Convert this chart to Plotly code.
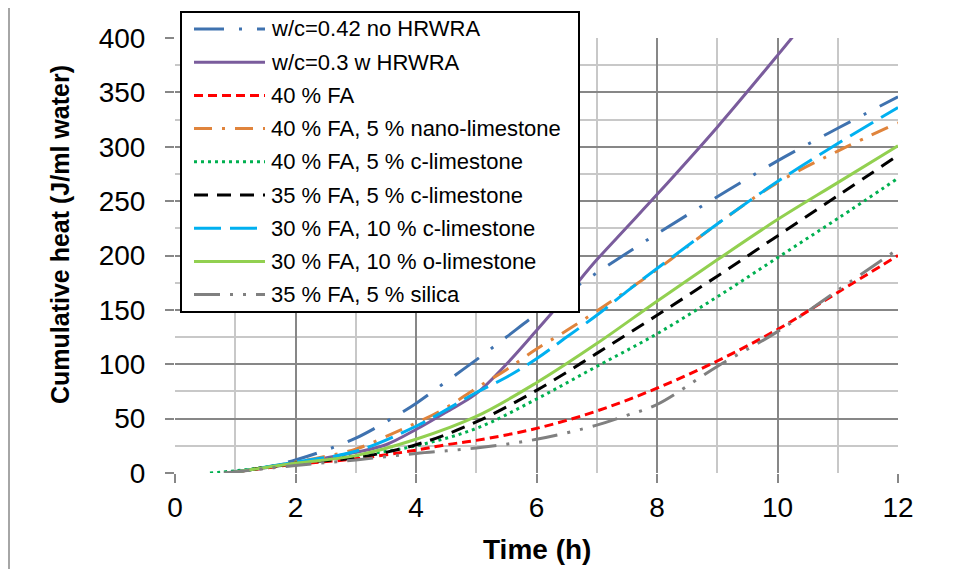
import plotly.graph_objects as go

# ---------------- data ----------------
series_names = [
    "w/c=0.42 no HRWRA",
    "w/c=0.3 w HRWRA",
    "40 % FA",
    "40 % FA, 5 % nano-limestone",
    "40 % FA, 5 % c-limestone",
    "35 % FA, 5 % c-limestone",
    "30 % FA, 10 % c-limestone",
    "30 % FA, 10 % o-limestone",
    "35 % FA, 5 % silica",
]

t_wc042 = [0.85, 1, 1.5, 2, 2.5, 3, 3.5, 4, 4.5, 5, 5.5, 6, 7, 8, 9, 10, 11, 12]
q_wc042 = [0, 1.5, 5, 12, 21, 32, 47, 64, 84, 104, 125, 146, 184, 220, 254, 287, 317, 346]

t_wc03 = [0.85, 1, 2, 3, 3.5, 4, 4.5, 5, 5.5, 6, 6.5, 7, 7.5, 8, 9, 10, 10.5]
q_wc03 = [0, 1, 9, 19, 26, 40, 56, 73, 100, 131, 163, 196, 226, 256, 318, 384, 418]

t_fa40 = [0.85, 1, 2, 3, 4, 4.5, 5, 6, 7, 8, 9, 10, 11, 12]
q_fa40 = [0, 1, 8, 13, 21, 26, 30, 41, 57, 78, 103, 132, 166, 200]

t_nano = [0.85, 1, 2, 3, 3.6, 4, 4.5, 5, 5.5, 6, 6.5, 7, 8, 9, 10, 11, 12]
q_nano = [0, 1, 10, 22, 36, 46, 60, 78, 95, 114, 131, 149, 187, 229, 267, 296, 322]

t_fa40_cl = [0.58, 1, 2, 3, 4, 5, 6, 7, 8, 9, 10, 11, 12]
q_fa40_cl = [0, 2, 9, 16, 25, 41, 68, 98, 128, 162, 198, 234, 271]

t_fa35_cl = [0.85, 1, 2, 3, 4, 5, 6, 7, 8, 9, 10, 11, 12]
q_fa35_cl = [0, 1, 9, 14, 26, 47, 76, 110, 145, 181, 218, 255, 292]

t_fa30_cl = [0.85, 1, 2, 3, 4, 4.5, 5, 5.5, 6, 6.5, 7, 7.5, 8, 9, 10, 11, 12]
q_fa30_cl = [0, 1, 10, 20, 43, 58, 74, 88, 105, 125, 145, 167, 188, 229, 268, 303, 336]

t_fa30_ol = [0.85, 1, 2, 3, 4, 5, 6, 7, 8, 9, 10, 11, 12]
q_fa30_ol = [0, 1, 9, 16, 31, 52, 83, 119, 158, 196, 233, 267, 301]

t_silica = [0.81, 1, 2, 3, 4, 5, 6, 7, 7.5, 8, 9, 10, 11, 12]
q_silica = [0, 1, 7, 12, 18, 23, 31, 44, 53, 63, 98, 130, 168, 206]

x_ticks = [0, 2, 4, 6, 8, 10, 12]
y_ticks = [0, 50, 100, 150, 200, 250, 300, 350, 400]

# ---------------- styles ----------------
colors = ["#3F72AF", "#7A5C9C", "#FF0000", "#E0843C", "#00B050",
          "#000000", "#00B0F0", "#92D050", "#808080"]
dashes = ["30px,15px,3px,15px", "solid", "9px,5px", "18px,10px,3px,10px",
          "3px,4px", "14px,9px", "27px,9px", "solid",
          "26px,10px,3px,10px,3px,10px"]

xs = [t_wc042, t_wc03, t_fa40, t_nano, t_fa40_cl, t_fa35_cl, t_fa30_cl, t_fa30_ol, t_silica]
ys = [q_wc042, q_wc03, q_fa40, q_nano, q_fa40_cl, q_fa35_cl, q_fa30_cl, q_fa30_ol, q_silica]

FONT = "Arial, Liberation Sans, sans-serif"

fig = go.Figure()
for name, x, y, c, d in zip(series_names, xs, ys, colors, dashes):
    fig.add_trace(go.Scatter(
        x=x, y=y, name=name, mode="lines",
        line=dict(color=c, width=3, dash=d, shape="spline", smoothing=1.0),
        showlegend=False,
    ))

# page has an 8px body margin: figure origin sits at screen (8, 8)
OFF = 8
W, H = 958 - 2 * OFF, 577 - 2 * OFF
# plot area in screen pixels: x 175..898, y 38..473
L = 175 - OFF
T = 38 - OFF
PW, PH = 723, 435
R = W - L - PW
B = H - T - PH


def xp(px):
    return (px - 175) / PW


def yp(py):
    return (473 - py) / PH


shapes = []
annotations = []

# outer chart-area frame
shapes.append(dict(type="rect", xref="paper", yref="paper",
                   x0=xp(9), x1=xp(990), y0=yp(600), y1=yp(7),
                   line=dict(color="#A6A6A6", width=2), fillcolor="rgba(0,0,0,0)",
                   layer="below"))

# legend box
shapes.append(dict(type="rect", xref="paper", yref="paper",
                   x0=xp(181), x1=xp(579), y0=yp(312), y1=yp(12),
                   line=dict(color="#000000", width=2), fillcolor="#FFFFFF",
                   layer="above"))
row0, dy = 29, 33.2
for i, (name, c, d) in enumerate(zip(series_names, colors, dashes)):
    ry = row0 + i * dy
    shapes.append(dict(type="line", xref="paper", yref="paper",
                       x0=xp(194), x1=xp(265), y0=yp(ry), y1=yp(ry),
                       line=dict(color=c, width=3, dash=d), layer="above"))
    annotations.append(dict(text=name, xref="paper", yref="paper",
                            x=xp(269), y=yp(ry), xanchor="left", yanchor="middle",
                            showarrow=False, font=dict(family=FONT, size=22, color="#000")))

# axis titles
annotations.append(dict(text="<b>Time (h)</b>", xref="paper", yref="paper",
                        x=0.5, y=yp(549), xanchor="center", yanchor="middle",
                        showarrow=False, font=dict(family=FONT, size=28, color="#000")))
annotations.append(dict(text="<b>Cumulative heat (J/ml water)</b>", xref="paper", yref="paper",
                        x=xp(60), y=yp(235), xanchor="center", yanchor="middle",
                        textangle=-90, showarrow=False,
                        font=dict(family=FONT, size=25, color="#000")))

axis_common = dict(
    showline=False, zeroline=False,
    ticks="outside", ticklen=9, tickwidth=2, tickcolor="#878787",
    tickfont=dict(family=FONT, size=28, color="#000"),
    showgrid=True, gridcolor="#878787", gridwidth=2,
)

fig.update_layout(
    width=W, height=H,
    margin=dict(l=L, r=R, t=T, b=B, pad=0),
    paper_bgcolor="#FFFFFF", plot_bgcolor="#FFFFFF",
    showlegend=False,
    xaxis=dict(range=[0, 12], tickvals=x_ticks, ticktext=[str(v) for v in x_ticks],
               minor=dict(dtick=1, showgrid=True, gridcolor="#C8C8C8", gridwidth=2),
               ticklabelstandoff=0, **axis_common),
    yaxis=dict(range=[0, 400], tickvals=y_ticks, ticktext=[str(v) for v in y_ticks],
               minor=dict(dtick=25, showgrid=True, gridcolor="#C8C8C8", gridwidth=2),
               ticklabelstandoff=14, **axis_common),
    shapes=shapes,
    annotations=annotations,
)

fig.write_html("out.html")
